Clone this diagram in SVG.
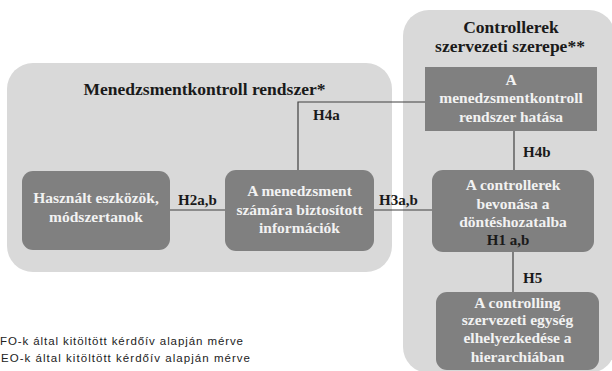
<svg xmlns="http://www.w3.org/2000/svg" width="612" height="371" viewBox="0 0 612 371">
<style>
.panel{fill:#d9d9d9}
.box{fill:#808080}
.t{font-family:'Liberation Serif','Times New Roman',serif;font-weight:700}
.title{font-size:17.5px;fill:#1a1a1a;text-anchor:middle}
.nt{font-size:15.5px;fill:#f2f2f2;text-anchor:middle}
.lab{font-size:15px;fill:#1a1a1a}
.conn{stroke:#404040;stroke-width:1.2;fill:none}
.fn{font-family:'Liberation Sans',Arial,sans-serif;font-size:11.5px;fill:#222}
</style>
<rect width="612" height="371" fill="#ffffff"/>
<g id="panel-left">
<rect class="panel" x="7" y="63" width="385" height="209" rx="26" ry="26"/>
<text class="t title" x="204.5" y="95">Menedzsmentkontroll rendszer*</text>
</g>
<g id="panel-right">
<rect class="panel" x="403" y="10" width="212" height="363" rx="26" ry="26"/>
<text class="t title" x="511" y="33">Controllerek</text>
<text class="t title" x="510" y="52">szervezeti szerepe**</text>
</g>
<g id="connectors">
<polyline class="conn" points="425,102 298,102 298,170"/>
<line class="conn" x1="514" y1="131" x2="514" y2="170"/>
<line class="conn" x1="170" y1="210" x2="225" y2="210"/>
<line class="conn" x1="374" y1="210" x2="432" y2="210"/>
<line class="conn" x1="513" y1="252" x2="513" y2="292"/>
<text class="t lab" x="313" y="120">H4a</text>
<text class="t lab" x="523" y="157">H4b</text>
<text class="t lab" x="178" y="205">H2a,b</text>
<text class="t lab" x="379" y="205">H3a,b</text>
<text class="t lab" x="523" y="283">H5</text>
</g>
<g id="node-eszkozok">
<rect class="box" x="22" y="171" width="148" height="79" rx="11" ry="11"/>
<text class="t nt" x="96" y="203">Használt eszközök,</text>
<text class="t nt" x="96" y="222">módszertanok</text>
</g>
<g id="node-informaciok">
<rect class="box" x="225" y="170" width="149" height="81" rx="11" ry="11"/>
<text class="t nt" x="299.5" y="196">A menedzsment</text>
<text class="t nt" x="299.5" y="215">számára biztosított</text>
<text class="t nt" x="299.5" y="233">információk</text>
</g>
<g id="node-hatasa">
<rect class="box" x="425" y="67" width="172" height="64"/>
<text class="t nt" x="511" y="85">A</text>
<text class="t nt" x="511" y="103">menedzsmentkontroll</text>
<text class="t nt" x="511" y="122">rendszer hatása</text>
</g>
<g id="node-bevonasa">
<rect class="box" x="432" y="170" width="162" height="82" rx="11" ry="11"/>
<text class="t nt" x="513" y="190">A controllerek</text>
<text class="t nt" x="513" y="209">bevonása a</text>
<text class="t nt" x="513" y="227">döntéshozatalba</text>
<text class="t lab" x="508" y="245" text-anchor="middle">H1 a,b</text>
</g>
<g id="node-hierarchia">
<rect class="box" x="436" y="292" width="163" height="78" rx="11" ry="11"/>
<text class="t nt" x="517.5" y="308">A controlling</text>
<text class="t nt" x="517.5" y="325">szervezeti egység</text>
<text class="t nt" x="517.5" y="343">elhelyezkedése a</text>
<text class="t nt" x="517.5" y="362">hierarchiában</text>
</g>
<g id="footnotes">
<text class="fn" x="0" y="345" textLength="243" lengthAdjust="spacing">FO-k által kitöltött kérdőív alapján mérve</text>
<text class="fn" x="1" y="362" textLength="249" lengthAdjust="spacing">EO-k által kitöltött kérdőív alapján mérve</text>
</g>
</svg>
